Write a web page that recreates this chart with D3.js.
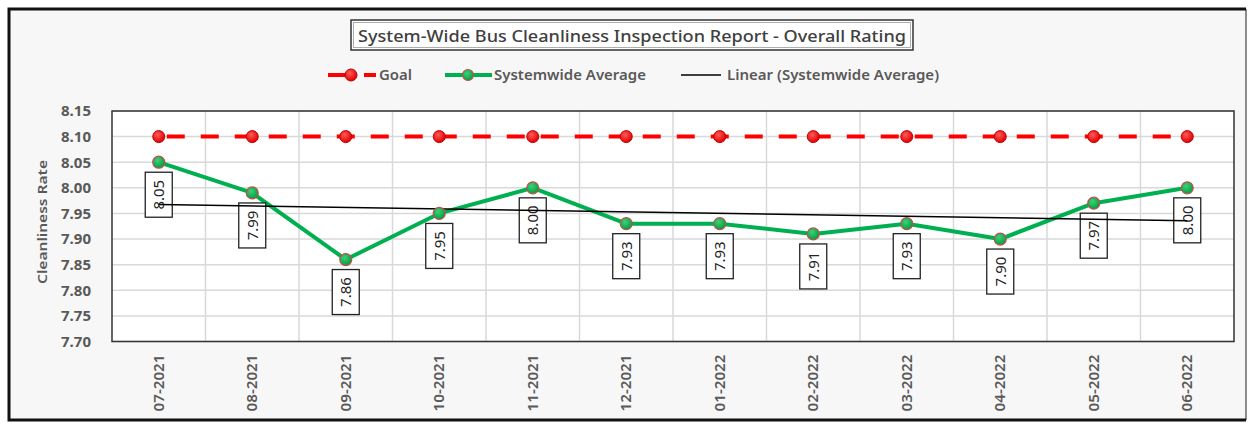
<!DOCTYPE html>
<html lang="en">
<head>
<meta charset="UTF-8">
<title>Bus Cleanliness</title>
<script src="https://cdn.jsdelivr.net/npm/d3@7"></script>
<style>
  body { margin: 0; background: #fff; }
  text { font-family: "Noto Sans", "Open Sans", sans-serif; }
</style>
</head>
<body>
<script>
// data
var months = ["07-2021", "08-2021", "09-2021", "10-2021", "11-2021", "12-2021",
              "01-2022", "02-2022", "03-2022", "04-2022", "05-2022", "06-2022"];
var average = [8.05, 7.99, 7.86, 7.95, 8.00, 7.93, 7.93, 7.91, 7.93, 7.90, 7.97, 8.00];
var goal = [8.10, 8.10, 8.10, 8.10, 8.10, 8.10, 8.10, 8.10, 8.10, 8.10, 8.10, 8.10];
var yTicks = [7.70, 7.75, 7.80, 7.85, 7.90, 7.95, 8.00, 8.05, 8.10, 8.15];

var W = 1252, H = 423;
var plot = {left: 112, top: 111, right: 1234, bottom: 341.5};

var svg = d3.select("body").append("svg").attr("width", W).attr("height", H);

// outer frame
svg.append("rect").attr("x", 9).attr("y", 9).attr("width", 1237).attr("height", 411)
    .attr("fill", "#f7f7f7").attr("stroke", "none");
svg.append("path").attr("d", "M1246,9 V420").attr("stroke", "#8c8c8c").attr("stroke-width", 2);
svg.append("path").attr("d", "M1246,9 H9 V420 H1246").attr("fill", "none")
    .attr("stroke", "#111").attr("stroke-width", 3);

var x = d3.scaleBand().domain(months).range([plot.left, plot.right]);
var y = d3.scaleLinear().domain([7.70, 8.15]).range([plot.bottom, plot.top]);
var cx = function(i) { return x(months[i]) + x.bandwidth() / 2; };

// plot area
svg.append("rect").attr("x", plot.left).attr("y", plot.top)
    .attr("width", plot.right - plot.left).attr("height", plot.bottom - plot.top)
    .attr("fill", "#fff");

// gridlines
svg.append("g").selectAll("line").data(yTicks).join("line")
    .attr("x1", plot.left).attr("x2", plot.right)
    .attr("y1", d => y(d)).attr("y2", d => y(d))
    .attr("stroke", "#d9d9d9").attr("stroke-width", 1.5);
svg.append("g").selectAll("line").data(months.slice(1)).join("line")
    .attr("x1", d => x(d)).attr("x2", d => x(d))
    .attr("y1", plot.top).attr("y2", plot.bottom)
    .attr("stroke", "#d9d9d9").attr("stroke-width", 1.5);

svg.append("rect").attr("x", plot.left).attr("y", plot.top)
    .attr("width", plot.right - plot.left).attr("height", plot.bottom - plot.top)
    .attr("fill", "none").attr("stroke", "#333").attr("stroke-width", 1.5);

// y axis
var yAxis = svg.append("g").attr("transform", "translate(" + plot.left + ",0)")
    .call(d3.axisLeft(y).tickValues(yTicks).tickFormat(d3.format(".2f")).tickSize(0).tickPadding(21));
yAxis.select(".domain").remove();
yAxis.selectAll("text").attr("font-size", 15).attr("font-weight", "bold").attr("fill", "#595959")
    .style("font-family", "'Noto Sans', sans-serif");

// x axis
var xAxis = svg.append("g").attr("transform", "translate(0," + plot.bottom + ")")
    .call(d3.axisBottom(x).tickSize(0));
xAxis.select(".domain").remove();
xAxis.selectAll("text")
    .attr("transform", "rotate(-90)")
    .attr("text-anchor", "end").attr("dy", "0.35em")
    .attr("x", -13).attr("y", 0)
    .attr("font-size", 14).attr("font-weight", 600).attr("fill", "#595959")
    .attr("textLength", 57).attr("lengthAdjust", "spacingAndGlyphs")
    .style("font-family", "'Noto Sans', sans-serif");

// y title
svg.append("text").attr("transform", "translate(47,222) rotate(-90)")
    .attr("text-anchor", "middle").attr("font-size", 13).attr("font-weight", 600)
    .attr("fill", "#595959").attr("textLength", 124).attr("lengthAdjust", "spacingAndGlyphs")
    .text("Cleanliness Rate");

// goal line
var line = d3.line().x((d, i) => cx(i)).y(d => y(d));
svg.append("path").datum(goal).attr("d", line).attr("fill", "none")
    .attr("stroke", "#ff0000").attr("stroke-width", 4).attr("stroke-dasharray", "18,16")
    .attr("stroke-dashoffset", -8);

// average line
svg.append("path").datum(average).attr("d", line).attr("fill", "none")
    .attr("stroke", "#00b050").attr("stroke-width", 4).attr("stroke-linejoin", "round");

// linear trend (least squares)
var xs = average.map((d, i) => i);
var mx = d3.mean(xs), my = d3.mean(average);
var slope = d3.sum(xs, i => (i - mx) * (average[i] - my)) / d3.sum(xs, i => (i - mx) * (i - mx));
var icpt = my - slope * mx;

// markers
var defs = svg.append("defs");
var gr = defs.append("radialGradient").attr("id", "redball").attr("cx", "40%").attr("cy", "35%").attr("r", "65%");
gr.append("stop").attr("offset", "0%").attr("stop-color", "#ff5a5a");
gr.append("stop").attr("offset", "100%").attr("stop-color", "#e00000");
var gg = defs.append("radialGradient").attr("id", "greenball").attr("cx", "40%").attr("cy", "35%").attr("r", "65%");
gg.append("stop").attr("offset", "0%").attr("stop-color", "#3fd07a");
gg.append("stop").attr("offset", "100%").attr("stop-color", "#00a040");

svg.append("g").selectAll("circle").data(goal).join("circle")
    .attr("cx", (d, i) => cx(i)).attr("cy", d => y(d)).attr("r", 6)
    .attr("fill", "url(#redball)").attr("stroke", "#c00000").attr("stroke-width", 1);

// data labels
var lbl = svg.append("g").selectAll("g").data(average).join("g")
    .attr("transform", (d, i) => "translate(" + cx(i) + "," + (y(d) + 10) + ")");
lbl.append("rect").attr("x", -13.5).attr("y", 0).attr("width", 27).attr("height", 45)
    .attr("fill", "#fff").attr("stroke", "#222").attr("stroke-width", 1.3);
lbl.append("text").attr("transform", "translate(0,22.5) rotate(-90)")
    .attr("text-anchor", "middle").attr("dy", "0.35em").attr("font-size", 15)
    .attr("fill", "#222").text(d => d.toFixed(2));

// trend drawn above the label boxes like the original
svg.append("line")
    .attr("x1", cx(0)).attr("y1", y(icpt))
    .attr("x2", cx(months.length - 1)).attr("y2", y(icpt + slope * (months.length - 1)))
    .attr("stroke", "#000").attr("stroke-width", 1.5);

svg.append("g").selectAll("circle").data(average).join("circle")
    .attr("cx", (d, i) => cx(i)).attr("cy", d => y(d)).attr("r", 6)
    .attr("fill", "url(#greenball)").attr("stroke", "#c0504d").attr("stroke-width", 1.2);

// title
svg.append("rect").attr("x", 351).attr("y", 20).attr("width", 562).attr("height", 30)
    .attr("fill", "#fff").attr("stroke", "#333").attr("stroke-width", 1.5);
svg.append("rect").attr("x", 353.5).attr("y", 22.5).attr("width", 557).attr("height", 25)
    .attr("fill", "none").attr("stroke", "#999").attr("stroke-width", 0.8);
svg.append("text").attr("x", 632).attr("y", 42).attr("text-anchor", "middle")
    .attr("font-size", 17).attr("font-weight", 500).attr("fill", "#404040")
    .attr("textLength", 548).attr("lengthAdjust", "spacingAndGlyphs")
    .text("System-Wide Bus Cleanliness Inspection Report - Overall Rating");

// legend
var lg = svg.append("g");
var ly = 75;
lg.append("line").attr("x1", 328).attr("x2", 348).attr("y1", ly).attr("y2", ly)
    .attr("stroke", "#ff0000").attr("stroke-width", 4);
lg.append("line").attr("x1", 364).attr("x2", 376).attr("y1", ly).attr("y2", ly)
    .attr("stroke", "#ff0000").attr("stroke-width", 4);
lg.append("circle").attr("cx", 351).attr("cy", ly).attr("r", 6)
    .attr("fill", "url(#redball)").attr("stroke", "#c00000");
lg.append("line").attr("x1", 445).attr("x2", 492).attr("y1", ly).attr("y2", ly)
    .attr("stroke", "#00b050").attr("stroke-width", 4);
lg.append("circle").attr("cx", 468).attr("cy", ly).attr("r", 5.5)
    .attr("fill", "url(#greenball)").attr("stroke", "#c0504d").attr("stroke-width", 1.2);
lg.append("line").attr("x1", 681).attr("x2", 721).attr("y1", ly).attr("y2", ly)
    .attr("stroke", "#000").attr("stroke-width", 1.5);

var legTexts = [
    {t: "Goal", x: 379, w: 33},
    {t: "Systemwide Average", x: 494, w: 152},
    {t: "Linear (Systemwide Average)", x: 727, w: 212}
];
lg.selectAll("text").data(legTexts).join("text")
    .attr("x", d => d.x).attr("y", ly).attr("dy", "0.35em")
    .attr("font-size", 14).attr("font-weight", 600).attr("fill", "#595959")
    .attr("textLength", d => d.w).attr("lengthAdjust", "spacingAndGlyphs")
    .text(d => d.t);
</script>
</body>
</html>
